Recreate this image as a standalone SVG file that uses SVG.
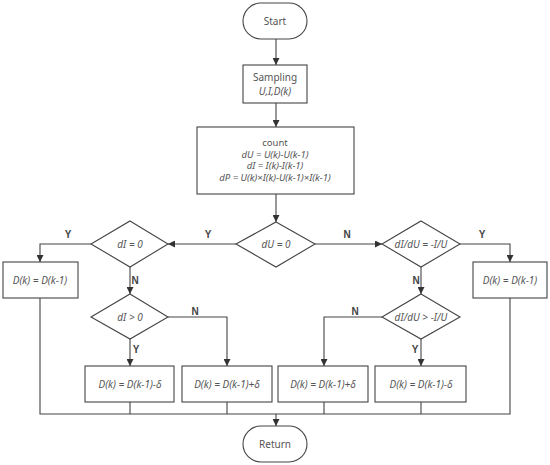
<svg xmlns="http://www.w3.org/2000/svg" width="550" height="465" viewBox="0 0 550 465">
<defs>
<marker id="arr" viewBox="0 0 10 10" refX="10" refY="5" markerWidth="7" markerHeight="7" orient="auto" markerUnits="userSpaceOnUse">
<path d="M0,0 L10,5 L0,10 z" fill="#333"/>
</marker>
<style>
.s{fill:#fff;stroke:#444;stroke-width:1.1}
.c{fill:none;stroke:#444;stroke-width:1.1}
.t{font-family:"Noto Sans","Open Sans","DejaVu Sans",sans-serif;font-size:10px;fill:#555;text-anchor:middle}
.i{font-style:italic}
.k{font-size:9.5px}
.l{font-family:"Liberation Sans",Arial,sans-serif;font-size:10px;font-weight:bold;fill:#444;text-anchor:middle}
</style>
</defs>
<rect width="550" height="465" fill="#fff"/>
<g id="connectors">
<path class="c" d="M276,39 V65" marker-end="url(#arr)"/>
<path class="c" d="M276,103 V127" marker-end="url(#arr)"/>
<path class="c" d="M276,194 V222" marker-end="url(#arr)"/>
<path class="c" d="M236,244 H168" marker-end="url(#arr)"/>
<path class="c" d="M315,244 H382" marker-end="url(#arr)"/>
<path class="c" d="M91,244 H40 V262" marker-end="url(#arr)"/>
<path class="c" d="M130,267 V294" marker-end="url(#arr)"/>
<path class="c" d="M168,317 H227 V366" marker-end="url(#arr)"/>
<path class="c" d="M130,339 V366" marker-end="url(#arr)"/>
<path class="c" d="M460,244 H510 V262" marker-end="url(#arr)"/>
<path class="c" d="M421,267 V294" marker-end="url(#arr)"/>
<path class="c" d="M382,317 H324 V366" marker-end="url(#arr)"/>
<path class="c" d="M421,339 V366" marker-end="url(#arr)"/>
<path class="c" d="M40,298 V414 H510 V298"/>
<path class="c" d="M130,402 V414 M227,402 V414 M324,402 V414 M421,402 V414"/>
<path class="c" d="M276,414 V426" marker-end="url(#arr)"/>
<text class="l" x="208" y="238">Y</text>
<text class="l" x="347" y="238">N</text>
<text class="l" x="68" y="238">Y</text>
<text class="l" x="482" y="238">Y</text>
<text class="l" x="135" y="284">N</text>
<text class="l" x="416" y="284">N</text>
<text class="l" x="195" y="315">N</text>
<text class="l" x="355" y="315">N</text>
<text class="l" x="136" y="353">Y</text>
<text class="l" x="415" y="353">Y</text>
</g>
<g id="start">
<rect class="s" x="243" y="3" width="64" height="36" rx="18" ry="18"/>
<text class="t" x="275" y="25">Start</text>
</g>
<g id="sampling">
<rect class="s" x="243" y="65" width="64" height="38"/>
<text class="t" x="275" y="81">Sampling</text>
<text class="t i" x="275" y="94.5">U,I,D(k)</text>
</g>
<g id="count">
<rect class="s" x="197" y="127" width="157" height="67"/>
<text class="t k" x="275" y="146">count</text>
<text class="t i k" x="275" y="157.5">dU = U(k)−U(k−1)</text>
<text class="t i k" x="275" y="169">dI = I(k)−I(k−1)</text>
<text class="t i k" x="275" y="180.5">dP = U(k)×I(k)−U(k−1)×I(k−1)</text>
</g>
<g id="dU0">
<polygon class="s" points="276,222 315,244 276,267 236,244"/>
<text class="t i" x="276" y="248">dU = 0</text>
</g>
<g id="dI0">
<polygon class="s" points="130,221 168,244 130,267 91,244"/>
<text class="t i" x="130" y="248">dI = 0</text>
</g>
<g id="dIdU">
<polygon class="s" points="421,221 460,244 421,267 382,244"/>
<text class="t i" x="421" y="248">dI/dU = −I/U</text>
</g>
<g id="boxL">
<rect class="s" x="3" y="262" width="75" height="36"/>
<text class="t i" x="40" y="284">D(k) = D(k−1)</text>
</g>
<g id="boxR">
<rect class="s" x="473" y="262" width="74" height="36"/>
<text class="t i" x="510" y="284">D(k) = D(k−1)</text>
</g>
<g id="dIgt0">
<polygon class="s" points="130,294 168,317 130,339 91,317"/>
<text class="t i" x="130" y="321">dI &gt; 0</text>
</g>
<g id="dIdUgt">
<polygon class="s" points="421,294 460,317 421,339 382,317"/>
<text class="t i" x="421" y="321">dI/dU &gt; −I/U</text>
</g>
<g id="box1">
<rect class="s" x="85" y="366" width="89" height="36"/>
<text class="t i" x="130" y="388">D(k) = D(k−1)−δ</text>
</g>
<g id="box2">
<rect class="s" x="182" y="366" width="90" height="36"/>
<text class="t i" x="227" y="388">D(k) = D(k−1)+δ</text>
</g>
<g id="box3">
<rect class="s" x="278" y="366" width="90" height="36"/>
<text class="t i" x="323" y="388">D(k) = D(k−1)+δ</text>
</g>
<g id="box4">
<rect class="s" x="375" y="366" width="91" height="36"/>
<text class="t i" x="421" y="388">D(k) = D(k−1)−δ</text>
</g>
<g id="return">
<rect class="s" x="243" y="426" width="64" height="36" rx="18" ry="18"/>
<text class="t" x="275" y="448">Return</text>
</g>
</svg>
